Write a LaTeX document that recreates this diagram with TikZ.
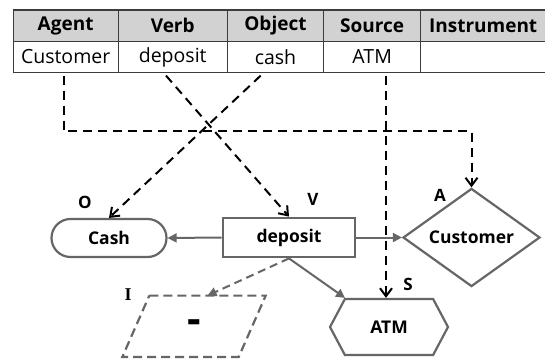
\documentclass[tikz,border=0pt]{standalone}
\usepackage{fontspec}
\setmainfont{Open Sans}
\newfontfamily\serifI{Liberation Serif}
\usetikzlibrary{arrows.meta,shapes.geometric,shapes.misc,shapes.symbols,calc}
\definecolor{tblc}{HTML}{3C3C3C}
\definecolor{hfill}{HTML}{D2D2D2}
\definecolor{shp}{HTML}{666666}
\begin{document}
\begin{tikzpicture}[x=1pt,y=-1pt,
  cellbox/.style={draw=tblc,line width=1.3pt,minimum height=31.3pt,inner sep=0pt,anchor=north west,font=\fontsize{19.5}{22}\selectfont},
  hcell/.style={cellbox,fill=hfill,font=\fontsize{19}{22}\selectfont\bfseries},
  shapebox/.style={draw=shp,line width=2.2pt,font=\fontsize{17.5}{20}\selectfont\bfseries,inner sep=0pt},
  lbl/.style={font=\fontsize{17}{19}\selectfont\bfseries},
  blk/.style={draw=black,line width=2pt,dash pattern=on 9pt off 6pt,-{Straight Barb[length=8pt,width=12pt,line width=2pt]}},
  garr/.style={draw=shp,line width=2pt,-{Triangle[length=9pt,width=9pt]}}]
\useasboundingbox (0,0) rectangle (545,358);
\fill[white] (0,0) rectangle (545,358);
% table
\node[hcell,minimum width=105pt] (hA) at (12.5,9.4) {Agent};
\node[hcell,minimum width=109.1pt] (hV) at (117.5,9.4) {Verb};
\node[hcell,minimum width=96.4pt] (hO) at (226.6,9.4) {Object};
\node[hcell,minimum width=97pt] (hS) at (323,9.4) {Source};
\node[hcell,minimum width=125pt] (hI) at (420,9.4) {Instrument};
\node[cellbox,minimum width=105pt] (dA) at (12.5,40.7) {Customer};
\node[cellbox,minimum width=109.1pt] (dV) at (117.5,40.7) {deposit};
\node[cellbox,minimum width=96.4pt] (dO) at (226.6,40.7) {cash};
\node[cellbox,minimum width=97pt] (dS) at (323,40.7) {ATM};
\node[cellbox,minimum width=125pt] (dI) at (420,40.7) {};
% diagram nodes
\node[shapebox,rounded rectangle,minimum width=115pt,minimum height=38pt] (cash) at (109,238) {Cash};
\node[shapebox,rectangle,line width=2.8pt,minimum width=132pt,minimum height=39pt] (dep) at (289,237.5) {deposit};
\node[shapebox,diamond,minimum width=137pt,minimum height=61pt] (cust) at (471.5,237.5) {Customer};
\node[inner sep=0pt,minimum width=116pt,minimum height=61pt] (para) at (194,326.3) {\fontsize{42}{42}\selectfont\bfseries -};
\draw[draw=shp,line width=2.2pt,dash pattern=on 9pt off 5pt]
  ($(para.north west)+(13.5,0)$) -- ($(para.north east)+(13.5,0)$) --
  ($(para.south east)+(-13.5,0)$) -- ($(para.south west)+(-13.5,0)$) -- cycle;
\node[shapebox,signal,signal to=west and east,signal pointer angle=124,minimum width=118pt,minimum height=56pt] (atm) at (389,327) {ATM};
% labels
\node[lbl] (lO) at (85,202) {O};
\node[lbl] (lV) at (313,199) {V};
\node[lbl] (lA) at (440,195) {A};
\node[lbl] (lS) at (408,284) {S};
\node[font=\fontsize{18}{20}\serifI\bfseries] (lI) at (128,295) {I};
% connectors from table
\coordinate (sA) at (63.6,75.6);
\coordinate (sV) at (166,75.6);
\coordinate (sO) at (260.7,75.6);
\coordinate (sS) at (386,75.6);
\draw[blk] (sA) -- ++(0,55.4) -| (cust.north);
\draw[blk] (sV) -- (dep.north);
\draw[blk] (sO) -- (cash.north);
\draw[blk] (sS) -- (sS |- atm.north);
% grey connectors
\draw[garr] (dep.west) -- (cash.east);
\draw[garr] (dep.east) -- (cust.west);
\draw[garr] (dep.south) -- ($(atm.north)+(-44,0)$);
\draw[garr,dash pattern=on 8pt off 5pt] (dep.south) -- ($(para.north)+(13.5,0)$);
\end{tikzpicture}
\end{document}
